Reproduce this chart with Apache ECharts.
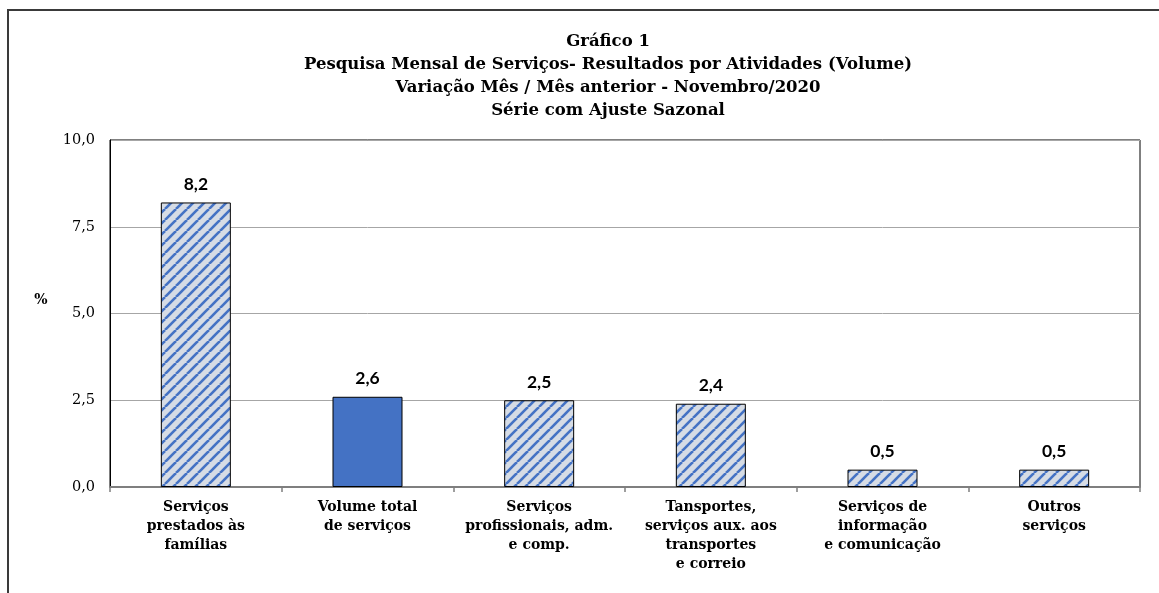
<!DOCTYPE html>
<html>
<head>
<meta charset="utf-8">
<script src="https://cdn.jsdelivr.net/npm/echarts@6/dist/echarts.min.js"></script>
<style>
  html, body { margin: 0; padding: 0; background: #fff; }
  #chart { width: 1159px; height: 593px; }
</style>
</head>
<body>
<div id="chart"></div>
<script>
var categories = [
  'Serviços\nprestados às\nfamílias',
  'Volume total\nde serviços',
  'Serviços\nprofissionais, adm.\ne comp.',
  'Tansportes,\nserviços aux. aos\ntransportes\ne correio',
  'Serviços de\ninformação\ne comunicação',
  'Outros\nserviços'
]
var values = [8.2, 2.6, 2.5, 2.4, 0.5, 0.5]
var solidIndex = 1 // volume total is drawn plain blue
var titleLines = [
  'Gráfico 1',
  'Pesquisa Mensal de Serviços- Resultados por Atividades (Volume)',
  'Variação Mês / Mês anterior - Novembro/2020',
  'Série com Ajuste Sazonal'
]

var serif = '"DejaVu Serif"'

// diagonal hatch like the excel fill
function makeHatch () {
  var n = 11
  var c = document.createElement('canvas')
  c.width = n
  c.height = n
  var ctx = c.getContext('2d')
  ctx.fillStyle = '#d6dce5'
  ctx.fillRect(0, 0, n, n)
  ctx.strokeStyle = '#4472c4'
  ctx.lineWidth = 2.6
  for (var k = -n; k <= 2 * n; k += n) {
    ctx.beginPath()
    ctx.moveTo(k, n)
    ctx.lineTo(k + n, 0)
    ctx.stroke()
  }
  return c
}
var hatch = makeHatch()

var fmt = function (v) { return String(Number(v).toFixed(1)).replace('.', ',') }

var chart = echarts.init(document.getElementById('chart'))
chart.setOption({
  animation: false,
  grid: {
    left: 110,
    right: 19,
    top: 140,
    bottom: 106,
    show: true,
    borderColor: '#000',
    borderWidth: 1
  },
  graphic: [
    {
      type: 'rect',
      shape: { x: 8, y: 10, width: 1200, height: 620 },
      style: { fill: 'none', stroke: '#3a3a3a', lineWidth: 2 },
      z: -1
    },
    {
      type: 'text',
      x: 608,
      y: 30,
      style: {
        text: titleLines.join('\n'),
        align: 'center',
        font: 'bold 16.5px ' + serif,
        lineHeight: 23,
        fill: '#000'
      }
    },
    {
      // axis unit, sits a bit above the middle like in excel
      type: 'text',
      x: 41,
      y: 300,
      style: {
        text: '%',
        align: 'center',
        verticalAlign: 'middle',
        font: 'bold 14px ' + serif,
        fill: '#000'
      }
    }
  ],
  xAxis: {
    type: 'category',
    data: categories,
    axisLine: { lineStyle: { color: '#7f7f7f', width: 2 } },
    axisTick: { show: true, length: 5, lineStyle: { color: '#7f7f7f', width: 1.5 } },
    axisLabel: {
      interval: 0,
      margin: 11,
      color: '#000',
      fontFamily: serif,
      fontWeight: 'bold',
      fontSize: 14,
      lineHeight: 19
    }
  },
  yAxis: {
    type: 'value',
    min: 0,
    max: 10,
    interval: 2.5,
    axisLine: { show: true, lineStyle: { color: '#000', width: 1 } },
    axisTick: { show: false },
    axisLabel: {
      margin: 15,
      color: '#000',
      fontFamily: serif,
      fontSize: 14.5,
      formatter: fmt
    },
    splitLine: { lineStyle: { color: '#a6a6a6', width: 1 } }
  },
  series: [
    {
      type: 'bar',
      barWidth: 70,
      data: values.map(function (v, i) {
        return {
          value: v,
          itemStyle: {
            color: i === solidIndex ? '#4472c4' : { image: hatch, repeat: 'repeat' }
          }
        }
      }),
      itemStyle: { borderColor: '#000', borderWidth: 1 },
      label: {
        show: true,
        position: 'top',
        distance: 9,
        color: '#000',
        fontFamily: 'Lato',
        fontWeight: 'bold',
        fontSize: 17.5,
        formatter: function (p) { return fmt(p.value) }
      }
    }
  ]
})
</script>
</body>
</html>
